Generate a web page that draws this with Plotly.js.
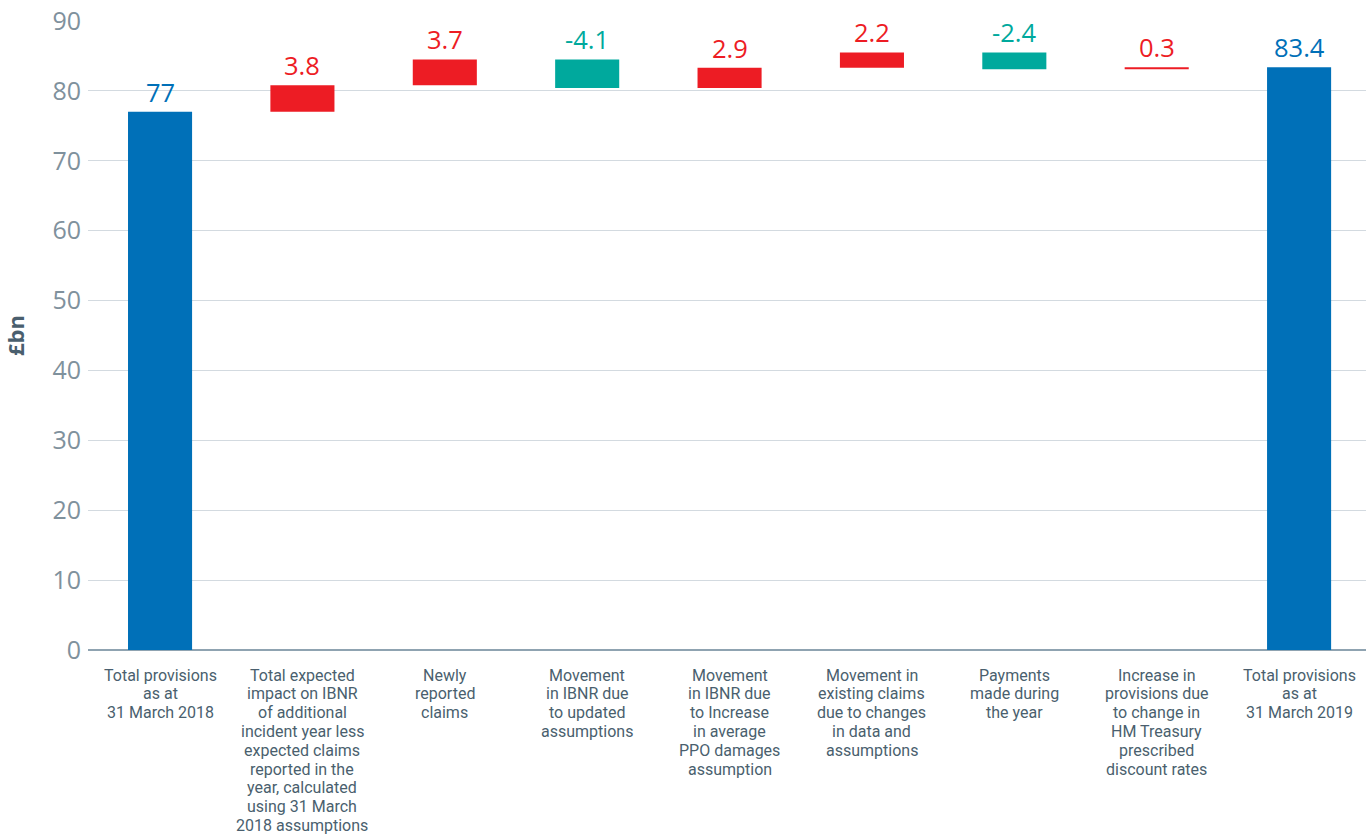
<!DOCTYPE html>
<html>
<head>
<meta charset="utf-8">
<script src="https://cdn.plot.ly/plotly-3.0.1.min.js"></script>
<style>html,body{margin:0;padding:0;background:#fff;}#chart{width:1366px;height:834px;}</style>
</head>
<body>
<div id="chart"></div>
<script>
const categories = [
  "Total provisions<br>as at<br>31 March 2018",
  "Total expected<br>impact on IBNR<br>of additional<br>incident year less<br>expected claims<br>reported in the<br>year, calculated<br>using 31 March<br>2018 assumptions",
  "Newly<br>reported<br>claims",
  "Movement<br>in IBNR due<br>to updated<br>assumptions",
  "Movement<br>in IBNR due<br>to Increase<br>in average<br>PPO damages<br>assumption",
  "Movement in<br>existing claims<br>due to changes<br>in data and<br>assumptions",
  "Payments<br>made during<br>the year",
  "Increase in<br>provisions due<br>to change in<br>HM Treasury<br>prescribed<br>discount rates",
  "Total provisions<br>as at<br>31 March 2019"
];
const values = [77, 3.8, 3.7, -4.1, 2.9, 2.2, -2.4, 0.3, 83.4];
const measures = ["absolute","relative","relative","relative","relative","relative","relative","relative","total"];
const yTicks = [0,10,20,30,40,50,60,70,80,90];

const BLUE = "#0070B8", RED = "#ED1C24", TEAL = "#00A99D";
const FONT = "Open Sans, Noto Sans, sans-serif";
const LABEL_FONT = "Roboto, Open Sans, sans-serif";
const xIdx = categories.map((c,i)=>i);

const annotations = [];
// value labels above each bar
let run = 0;
values.forEach((v,i)=>{
  let top, color, txt;
  if (measures[i] === "absolute") { run = v; top = v; color = BLUE; txt = v; }
  else if (measures[i] === "total") { top = run; color = BLUE; txt = run; }
  else { const prev = run; run = run + v; top = Math.max(prev, run); color = v >= 0 ? RED : TEAL; txt = v; }
  annotations.push({
    x: i, y: top, xref: "x", yref: "y", yanchor: "bottom", yshift: 1,
    text: String(Number(txt.toFixed(1))), showarrow: false,
    font: {family: FONT, size: 25.5, color: color}
  });
});

// category labels, one annotation per line for tighter line spacing
const LINE = 18.8;
categories.forEach((c,i)=>{
  c.split("<br>").forEach((line,k)=>{
    annotations.push({
      x: i, y: 0, xref: "x", yref: "y", yanchor: "middle", xanchor: "center",
      yshift: -(25 + k*LINE), text: line, showarrow: false,
      font: {family: LABEL_FONT, size: 16, color: "#4A5F6E"}
    });
  });
});

const trace = {
  type: "waterfall",
  x: xIdx,
  y: values,
  measure: measures,
  increasing: {marker: {color: RED}},
  decreasing: {marker: {color: TEAL}},
  totals: {marker: {color: BLUE}},
  connector: {visible: false},
  hoverinfo: "skip",
  textinfo: "none"
};

const layout = {
  width: 1366, height: 834,
  margin: {l: 88, r: 0, t: 21, b: 184},
  paper_bgcolor: "#fff", plot_bgcolor: "#fff",
  showlegend: false,
  waterfallgap: 0.55,
  font: {family: FONT},
  xaxis: {
    range: [-0.506, 8.47],
    tickmode: "array", tickvals: xIdx,
    showticklabels: false,
    showgrid: false, zeroline: false, showline: false, ticks: ""
  },
  yaxis: {
    range: [0, 90],
    tickmode: "array", tickvals: yTicks, ticktext: yTicks.map(String),
    tickfont: {size: 25, color: "#7F919D"},
    gridcolor: "#D3DAE0", gridwidth: 1,
    zeroline: true, zerolinecolor: "#8FA3B1", zerolinewidth: 1.5,
    showline: false, ticks: "", ticklabelstandoff: 6,
    title: {text: "<b>£bn</b>", font: {size: 22, color: "#4A5F6E"}, standoff: 26}
  },
  annotations: annotations
};

Plotly.newPlot("chart", [trace], layout, {staticPlot: true, displayModeBar: false});
</script>
</body>
</html>
